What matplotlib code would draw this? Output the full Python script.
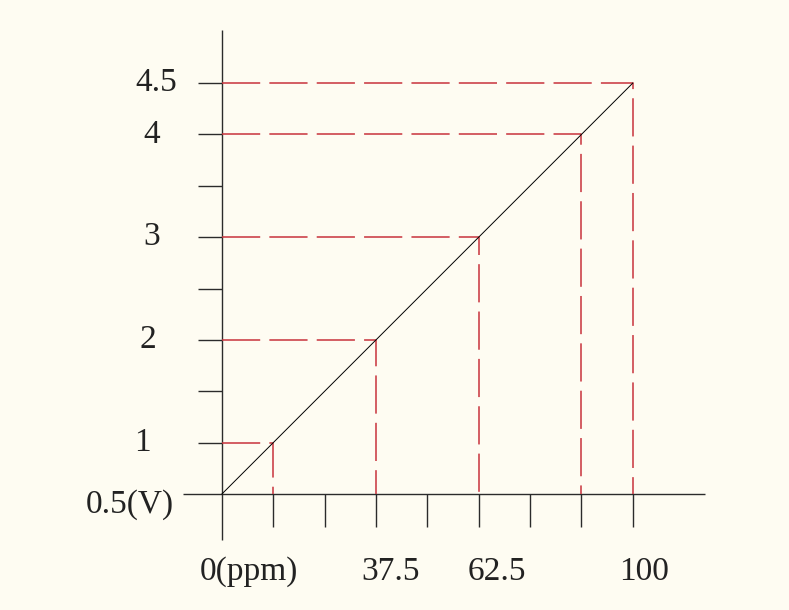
import matplotlib
matplotlib.use("Agg")
import matplotlib.pyplot as plt

# sensor response: concentration (ppm) vs output voltage (V)
PPM_RANGE = [0, 100]
VOLT_RANGE = [0.5, 4.5]
GUIDE_PPM = [12.5, 37.5, 62.5, 87.5, 100]
GUIDE_VOLT = [1, 2, 3, 4, 4.5]
X_TICKS = [12.5, 25, 37.5, 50, 62.5, 75, 87.5, 100]
Y_TICKS = [1, 1.5, 2, 2.5, 3, 3.5, 4, 4.5]
X_LABELS = [(0, "0(ppm)"), (37.5, "37.5"), (62.5, "62.5"), (100, "100")]
Y_LABELS = [(0.5, "0.5(V)"), (1, "1"), (2, "2"), (3, "3"), (4, "4"), (4.5, "4.5")]

# pixel offsets of the labels relative to their anchor on the axis
X_LABEL_DX = [27, 15, 18, 11]
Y_LABEL_DX = [-92, -79, -74, -70, -70, -66]
Y_LABEL_DY = [-11, 0, 0, 0, 0, 0]

BG = "#fefcf2"
AXIS = "#2b2b2b"
RED = "#c8323c"

fig = plt.figure(figsize=(7.89, 6.10), dpi=100, facecolor=BG)
ax = fig.add_axes([0, 0, 1, 1])
ax.set_facecolor(BG)
ax.set_xlim(-54.0, 138.0)
ax.set_ylim(-0.629, 5.308)
ax.axis("off")

# axes drawn as lines crossing at the origin
ax.plot([-9.5, 117.5], [0.5, 0.5], color=AXIS, lw=1.0, solid_capstyle="butt")
ax.plot([0, 0], [0.052, 5.016], color=AXIS, lw=1.0, solid_capstyle="butt")
ax.vlines(X_TICKS, 0.179, 0.5, color=AXIS, lw=1.0)
ax.hlines(Y_TICKS, -5.84, 0, color=AXIS, lw=1.0)

# dashed guides from each marked point back to both axes
for px, vy in zip(GUIDE_PPM, GUIDE_VOLT):
    ax.plot([0, px, px], [vy, vy, 0.5], color=RED, lw=1.1,
            dashes=(25, 6), zorder=2)

# response line
ax.plot(PPM_RANGE, VOLT_RANGE, color="black", lw=0.7, zorder=3)

font = dict(family="Liberation Serif", fontsize=24, color="#222222")
for (val, text), dx in zip(X_LABELS, X_LABEL_DX):
    ax.annotate(text, xy=(val, 0.5), xytext=(dx, -78),
                textcoords="offset pixels", ha="center", va="center", **font)
for (val, text), dx, dy in zip(Y_LABELS, Y_LABEL_DX, Y_LABEL_DY):
    ax.annotate(text, xy=(0, val), xytext=(dx, dy),
                textcoords="offset pixels", ha="center", va="center", **font)

fig.savefig("out.png", dpi=100, facecolor=BG)
